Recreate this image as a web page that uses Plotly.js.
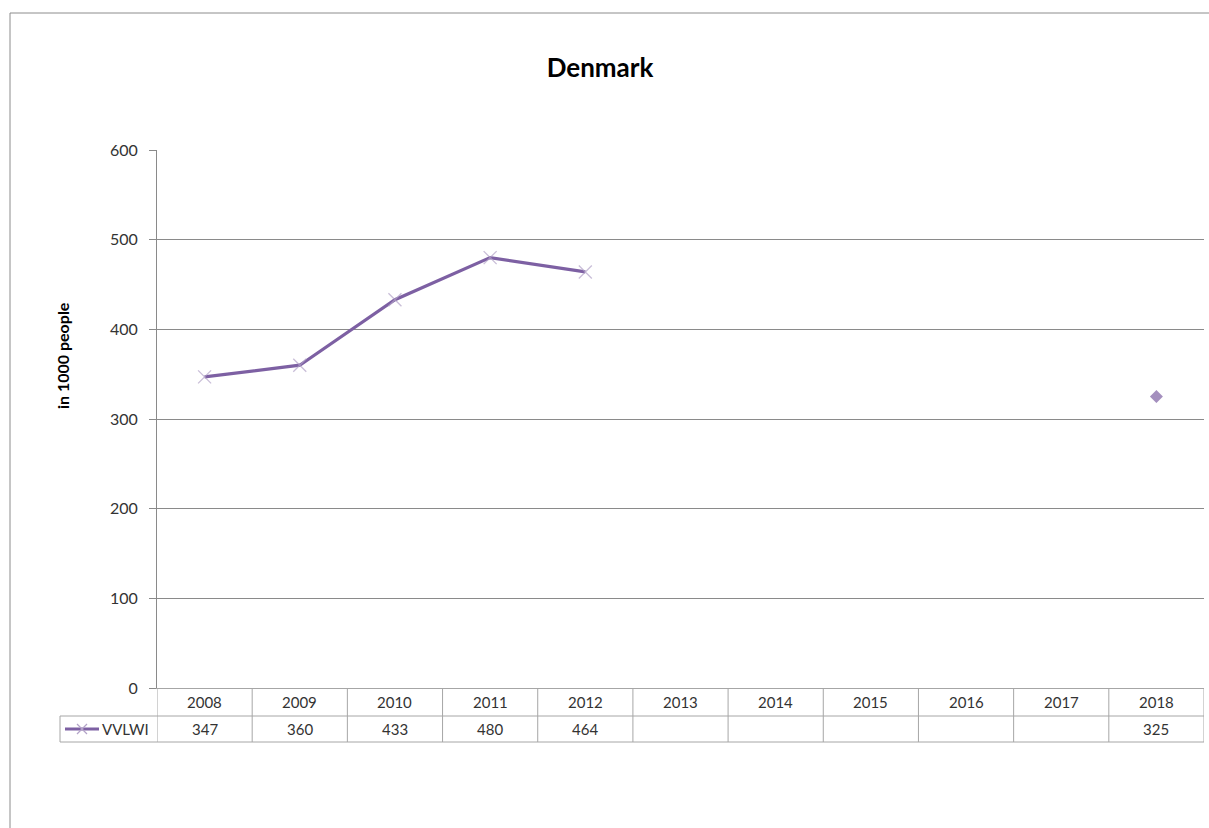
<!DOCTYPE html>
<html>
<head>
<meta charset="utf-8">
<script src="https://cdn.plot.ly/plotly-3.0.1.min.js"></script>
<style>html,body{margin:0;padding:0;background:#fff;}#chart{width:1209px;height:828px;}</style>
</head>
<body>
<div id="chart"></div>
<script>
// ---- data ----
const years = ['2008','2009','2010','2011','2012','2013','2014','2015','2016','2017','2018'];
const seriesName = 'VVLWI';
const values = [347, 360, 433, 480, 464, null, null, null, null, null, 325];
const yTicks = [0, 100, 200, 300, 400, 500, 600];

// ---- geometry (pixels) ----
const W = 1209, H = 828;
const L = 157, R = 1204, T = 150, B = 688;
const pw = R - L, ph = B - T;
const px = x => (x - L) / pw;          // pixel x -> paper
const py = y => (B - y) / ph;          // pixel y -> paper

const purple = '#7d60a3';
const grid = '#8a8a8a';
const tblLine = '#a6a6a6';
const txt = '#333333';
const FONT = 'Lato, "Open Sans", sans-serif';

const idx = years.map((_, i) => i);
const isolated = values.map((v, i) => v !== null && (i === 0 || values[i-1] === null) && (i === values.length-1 || values[i+1] === null));

const trace = {
  x: idx, y: values, type: 'scatter', mode: 'lines+markers', connectgaps: false,
  line: {color: purple, width: 3.2},
  marker: {
    symbol: isolated.map(s => s ? 'diamond' : 'x-thin'),
    size: isolated.map(s => s ? 10 : 13),
    color: purple,
    line: {color: isolated.map(s => s ? purple : '#b3a3c8'), width: isolated.map(s => s ? 0 : 1.3)}
  },
  hoverinfo: 'x+y', showlegend: false
};

// table rows
const rowMid = py(716), rowBot = py(742), legL = px(60);
const shapes = [];
// outer chart border
shapes.push({type:'rect', xref:'paper', yref:'paper', x0:px(10), x1:1.2, y0:-0.5, y1:py(13), line:{color:'#8c8c8c', width:1}, layer:'below'});
// vertical cell lines
for (let i = 0; i <= years.length; i++) {
  shapes.push({type:'line', xref:'x', yref:'paper', x0:i-0.5, x1:i-0.5, y0:0, y1:rowBot, line:{color:tblLine, width:1}});
}
shapes.push({type:'line', xref:'paper', yref:'paper', x0:legL, x1:legL, y0:rowMid, y1:rowBot, line:{color:tblLine, width:1}});
shapes.push({type:'line', xref:'paper', yref:'paper', x0:legL, x1:1, y0:rowMid, y1:rowMid, line:{color:tblLine, width:1}});
shapes.push({type:'line', xref:'paper', yref:'paper', x0:legL, x1:1, y0:rowBot, y1:rowBot, line:{color:tblLine, width:1}});
// legend key
const ky = py(729);
shapes.push({type:'line', xref:'paper', yref:'paper', x0:px(65), x1:px(99), y0:ky, y1:ky, line:{color:purple, width:3}});
shapes.push({type:'line', xref:'paper', yref:'paper', x0:px(77), x1:px(87), y0:py(724), y1:py(734), line:{color:'#b3a3c8', width:1.3}});
shapes.push({type:'line', xref:'paper', yref:'paper', x0:px(77), x1:px(87), y0:py(734), y1:py(724), line:{color:'#b3a3c8', width:1.3}});

const annotations = [];
years.forEach((yr, i) => {
  annotations.push({x:i, xref:'x', y:py(702), yref:'paper', text:yr, showarrow:false, font:{family:FONT, size:15, color:txt}, xanchor:'center', yanchor:'middle'});
  if (values[i] !== null) {
    annotations.push({x:i, xref:'x', y:py(729), yref:'paper', text:String(values[i]), showarrow:false, font:{family:FONT, size:15, color:txt}, xanchor:'center', yanchor:'middle'});
  }
});
annotations.push({x:px(100), xref:'paper', y:py(729), yref:'paper', text:seriesName, showarrow:false, font:{family:FONT, size:15, color:txt}, xanchor:'left', yanchor:'middle'});
annotations.push({x:px(62), xref:'paper', y:py(356), yref:'paper', text:'<b>in 1000 people</b>', textangle:-90, showarrow:false, font:{family:FONT, size:16, color:'#000'}, xanchor:'center', yanchor:'middle'});

const layout = {
  width: W, height: H,
  margin: {l: L, r: W - R, t: T, b: H - B, pad: 0},
  paper_bgcolor: '#fff', plot_bgcolor: '#fff',
  title: {text: '<b>Denmark</b>', font: {family: FONT, size: 26, color: '#000'}, xref: 'container', yref: 'container', x: 600 / W, y: (H - 68) / H, xanchor: 'center', yanchor: 'middle'},
  xaxis: {range: [-0.5, years.length - 0.5], showticklabels: false, ticks: '', showgrid: false, zeroline: false, showline: true, linecolor: tblLine, linewidth: 1, fixedrange: true},
  yaxis: {range: [0, 600], tickvals: yTicks, ticktext: yTicks.map(String), showgrid: true, gridcolor: grid, gridwidth: 1, zeroline: false, showline: true, linecolor: grid, linewidth: 1, ticks: 'outside', ticklen: 7, tickcolor: grid, ticklabelstandoff: 8, tickfont: {family: FONT, size: 16, color: txt}, fixedrange: true},
  shapes: shapes,
  annotations: annotations,
  showlegend: false
};

Plotly.newPlot('chart', [trace], layout, {displayModeBar: false, staticPlot: true});
</script>
</body>
</html>
